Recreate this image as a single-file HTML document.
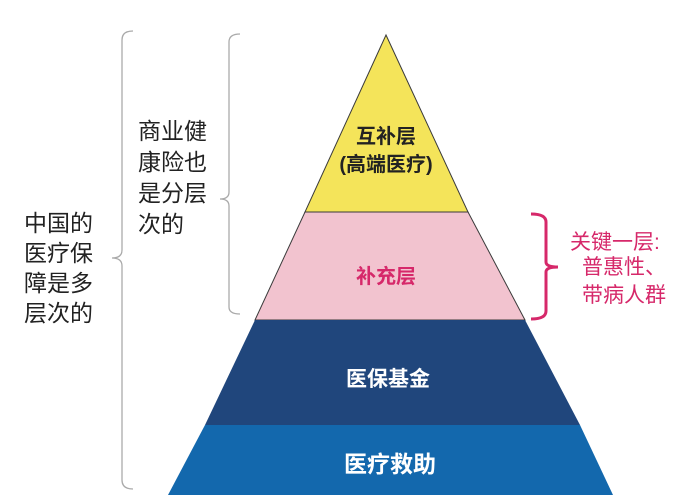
<!DOCTYPE html>
<html><head><meta charset="utf-8"><style>
body{margin:0;width:698px;height:502px;background:#fff;overflow:hidden;position:relative;font-family:"Liberation Sans","Noto Sans CJK SC",sans-serif}
.t{position:absolute;font-size:23px;line-height:30px;color:#222;white-space:nowrap}
.p{position:absolute;font-size:21px;line-height:27px;color:#d6286a;white-space:nowrap}
</style></head><body>
<svg width="698" height="502" style="position:absolute;left:0;top:0">
<polygon points="386,35 305,212 468,212" fill="#f4e45a" stroke="#3a3a3a" stroke-width="1"/>
<polygon points="305,212 468,212 525,320 255,320" fill="#f2c3cf" stroke="#3a3a3a" stroke-width="1"/>
<polygon points="255,320 525,320 580,425 205,425" fill="#20467c"/>
<polygon points="205,425 580,425 613,495 168,495" fill="#1368ad"/>
<g fill="none" stroke="#aaa" stroke-width="1.3">
<path d="M133,31 Q122,31 122,40 L122,250 Q122,258 112,258 Q122,258 122,266 L122,480 Q122,489 133,489"/>
<path d="M240,34 Q229,34 229,42 L229,192 Q229,199 220,199 Q229,199 229,206 L229,307 Q229,314 240,314"/>
</g>
<path d="M531,214 Q546,214 546,222 L546,262 Q546,267 558,267 Q546,267 546,272 L546,311 Q546,319 531,319" fill="none" stroke="#d6286a" stroke-width="3"/>
<text x="386" y="143" text-anchor="middle" font-size="20" font-weight="bold" fill="#222" font-family="Liberation Sans,Noto Sans CJK SC,sans-serif">互补层</text>
<text x="386" y="171" text-anchor="middle" font-size="20" font-weight="bold" fill="#222" font-family="Liberation Sans,Noto Sans CJK SC,sans-serif">(高端医疗)</text>
<text x="386" y="283" text-anchor="middle" font-size="20" font-weight="bold" fill="#d6286a" font-family="Liberation Sans,Noto Sans CJK SC,sans-serif">补充层</text>
<text x="388" y="386" text-anchor="middle" font-size="21" font-weight="bold" fill="#fff" font-family="Liberation Sans,Noto Sans CJK SC,sans-serif">医保基金</text>
<text x="390" y="472" text-anchor="middle" font-size="23" font-weight="bold" fill="#fff" font-family="Liberation Sans,Noto Sans CJK SC,sans-serif">医疗救助</text>
</svg>
<div class="t" style="left:24px;top:208px">中国的<br>医疗保<br>障是多<br>层次的</div>
<div class="t" style="left:138px;top:116px;line-height:31px">商业健<br>康险也<br>是分层<br>次的</div>
<div class="p" style="left:570px;top:229px">关键一层:</div>
<div class="p" style="left:582px;top:254px">普惠性、</div>
<div class="p" style="left:582px;top:282px">带病人群</div>
</body></html>
